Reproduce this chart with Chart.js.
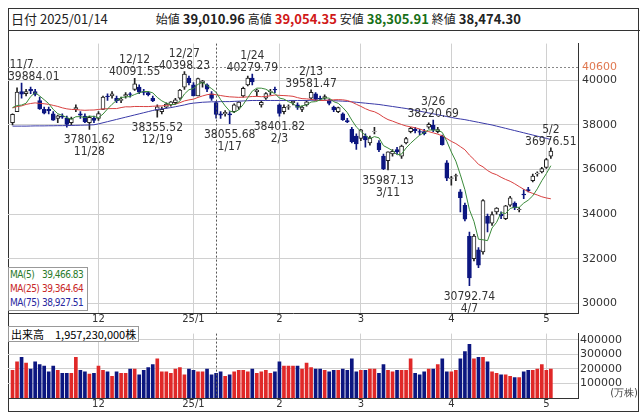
<!DOCTYPE html>
<html><head><meta charset="utf-8">
<script src="https://cdn.jsdelivr.net/npm/chart.js@4"></script>
<style>
body{margin:0;width:642px;height:414px;background:#fff;font-family:"Noto Sans CJK JP","DejaVu Sans",sans-serif;overflow:hidden;position:relative}
.ab{position:absolute}
#frame{left:8px;top:8px;width:631px;height:404px;border:1px solid #333;box-sizing:border-box}
.hl{position:absolute;left:8px;width:632px;height:1px;background:#333}
#hdr{left:11px;top:9px;font-size:13px;color:#222;white-space:nowrap}
#hdr b{font-weight:bold}
#ma{left:8px;top:267px;width:80px;height:44px;border:1px solid #999;background:#fff;font-size:10px;line-height:14px;font-family:"DejaVu Sans Condensed",sans-serif;box-sizing:border-box;padding-left:1px;white-space:nowrap;letter-spacing:-0.5px}
#ma span{display:inline-block;width:32px}
#vol{left:8px;top:326px;border:1px solid #999;background:#fff;font-size:11px;padding:0 2px;font-family:"Noto Sans CJK JP",sans-serif;line-height:14px}
</style></head><body>
<div class="ab" id="frame"></div>
<div class="hl" style="top:30px"></div>
<div class="ab" id="hdr">日付 2025/01/14<span style="display:inline-block;width:48px"></span><span style="font-size:12px">始値</span> <b>39,010.96</b> <span style="font-size:12px">高値</span> <b style="color:#d01818">39,054.35</b> <span style="font-size:12px">安値</span> <b style="color:#187018">38,305.91</b> <span style="font-size:12px">終値</span> <b>38,474.30</b></div>
<canvas id="c1" class="ab" style="left:8px;top:33px;width:632px;height:293px" width="632" height="293"></canvas>
<canvas id="c2" class="ab" style="left:8px;top:325px;width:632px;height:86px" width="632" height="86"></canvas>
<div class="ab" id="ma"><div style="color:#2a7a2a"><span>MA(5)</span>39,466.83</div><div style="color:#c82828"><span>MA(25)</span>39,364.64</div><div style="color:#2828a0"><span>MA(75)</span>38,927.51</div></div>
<div class="ab" id="vol">出来高　1,957,230,000株</div>
<script>
const dates=["11/5","11/6","11/7","11/8","11/11","11/12","11/13","11/14","11/15","11/18","11/19","11/20","11/21","11/22","11/25","11/26","11/27","11/28","11/29",
"12/2","12/3","12/4","12/5","12/6","12/9","12/10","12/11","12/12","12/13","12/16","12/17","12/18","12/19","12/20","12/23","12/24","12/25","12/26","12/27","12/30",
"1/6","1/7","1/8","1/9","1/10","1/14","1/15","1/16","1/17","1/20","1/21","1/22","1/23","1/24","1/27","1/28","1/29","1/30","1/31",
"2/3","2/4","2/5","2/6","2/7","2/10","2/12","2/13","2/14","2/17","2/18","2/19","2/20","2/21","2/25","2/26","2/27","2/28",
"3/3","3/4","3/5","3/6","3/7","3/10","3/11","3/12","3/13","3/14","3/17","3/18","3/19","3/21","3/24","3/25","3/26","3/27","3/28","3/31",
"4/1","4/2","4/3","4/4","4/7","4/8","4/9","4/10","4/11","4/14","4/15","4/16","4/17","4/18","4/21","4/22","4/23","4/24","4/25","4/28","4/30",
"5/1","5/2"];
const opens=[38100,38600,39500,39400,39600,39500,39100,38700,38700,38500,38300,38400,38300,38100,38700,38500,38400,38100,38300,
38300,38700,39300,39300,39200,39100,39300,39400,39600,39700,39500,39450,39200,38650,38600,38800,38900,39000,39200,39700,40100,
39800,39300,39900,39800,39400,39011,38500,38500,38500,38600,38800,39300,39800,40100,39500,38900,39200,39500,39600,
38900,38600,38800,39000,38900,38700,38900,39200,39400,39200,39200,39100,38800,38600,38500,38200,37800,37500,
37400,37500,37200,37700,37200,36600,36400,36700,36900,36600,37200,37700,37800,37700,37700,37900,38000,37700,37500,36300,
35600,35700,35000,34400,33000,32000,32400,32300,33900,33600,34100,34000,33800,34400,34500,34200,34900,35100,35500,35800,35900,
36100,36600];
const highs=[38500,39664,39884,39600,39700,39600,39250,38800,38800,38600,38450,38500,38400,38350,38900,38600,38500,38400,38400,
38600,39300,39400,39500,39300,39250,39450,39450,40091,39800,39600,39500,39300,38900,38800,39000,39050,39200,39600,40398,40200,
39900,40100,40000,39850,39500,39054,38600,38650,38600,38950,39050,39700,40200,40280,39600,39100,39450,39600,39700,
38950,38900,38900,39100,39000,38850,39100,39581,39450,39300,39350,39150,38850,38800,38550,38300,37900,37600,
37800,37600,37500,37900,37300,36700,36800,36900,37000,37100,37450,37900,37900,37800,37800,38100,38220,37900,37550,36400,
35700,35800,35100,34500,33200,33100,32500,34650,34000,34100,34300,34100,34400,34800,34550,34300,35100,35200,35800,35900,36100,
36500,36976];
const lows=[38000,38600,39200,39300,39400,39300,38700,38500,38500,38200,38100,38300,37900,38000,38600,38300,38100,37801,38100,
38200,38700,39100,39200,39000,39000,39200,39250,39550,39400,39350,39300,39050,38355,38500,38750,38850,38950,39150,39600,39800,
39300,39300,39700,39500,39100,38306,38300,38400,38056,38550,38700,39250,39750,39800,39300,38800,39150,39350,39450,
38401,38500,38700,38900,38700,38600,38850,39150,39100,39100,39150,38900,38600,38550,38200,38100,37200,36900,
37300,37000,37100,37600,36800,36000,35987,36600,36700,36500,37150,37650,37650,37550,37550,37850,37700,37650,37100,35500,
35300,35500,34100,33700,30793,31900,31600,32200,33200,33500,34000,33800,33750,34350,34200,34100,34700,35000,35450,35700,35850,
36050,36500];
const closes=[38474,39480,39381,39500,39533,39376,38721,38535,38642,38220,38414,38352,38026,38283,38780,38442,38134,38349,38208,
38513,39248,39276,39395,39091,39160,39367,39372,39849,39470,39457,39364,39081,38813,38701,38937,39036,39130,39568,40281,39894,
39307,40083,39981,39605,39190,38474,38444,38572,38451,38902,39027,39646,40100,39931,39565,39016,39414,39513,39572,
38520,38798,38831,39066,38787,38801,39043,39461,39149,39174,39270,38964,38678,38776,38237,38142,37256,37155,
37785,37331,37418,37704,36887,36028,36793,36819,36790,37053,37396,37845,37751,37677,37608,38027,37780,37799,37120,35617,
35624,35725,34735,33780,31136,33012,31714,34609,33585,33982,34267,33920,34377,34730,34279,34220,34868,35039,35705,35839,36045,
36452,36830];
const priorCloses=[37919,38651,37808,38552,38635,39332,38937,39277,39380,39605,39910,39180,38911,38981,38954,38411,38104,38143,37913,38605,39027,39277,39081,38053];
const ma75=[37950,37950,37950,37950,37955,37960,37960,37960,37965,37965,37970,37970,37975,37980,37985,37990,37995,38000,38010,
38050,38100,38150,38200,38250,38300,38350,38400,38450,38500,38550,38600,38650,38700,38720,38750,38780,38820,38860,38900,38950,
38980,39000,39020,39030,39040,39040,39050,39050,39050,39060,39070,39080,39090,39100,39100,39100,39100,39100,39100,
39100,39100,39100,39100,39100,39100,39100,39110,39110,39110,39110,39100,39090,39080,39070,39060,39040,39020,
39000,38980,38960,38940,38920,38890,38860,38830,38800,38770,38740,38700,38660,38620,38580,38540,38500,38460,38420,38380,
38340,38300,38270,38240,38200,38160,38120,38080,38040,38000,37950,37900,37850,37800,37750,37700,37650,37600,37550,37500,37450,
37400,37350];
const volumes=[190000,250000,280000,240000,200000,250000,230000,220000,180000,220000,190000,170000,170000,170000,280000,190000,180000,165000,170000,
220000,190000,180000,150000,180000,170000,170000,200000,200000,160000,190000,210000,230000,270000,180000,180000,170000,200000,210000,160000,200000,
190000,180000,180000,200000,160000,170000,180000,150000,160000,180000,190000,190000,180000,200000,170000,180000,190000,170000,180000,
250000,220000,220000,220000,220000,200000,240000,210000,200000,200000,190000,180000,190000,190000,200000,190000,270000,180000,
190000,190000,200000,200000,170000,230000,190000,180000,190000,190000,190000,270000,170000,160000,180000,200000,200000,230000,270000,180000,
180000,190000,270000,320000,370000,270000,280000,280000,250000,180000,170000,160000,160000,150000,140000,140000,180000,190000,190000,200000,230000,
190000,200000];
const priceTicks=[30000,32000,34000,36000,38000,40000];
const volTicks=[100000,200000,300000,400000];
const monthStarts=[19,40,59,77,97,118];
const monthLabels=["12","25/1","2","3","4","5"];
const highNotes=[[2,"11/7","39884.01"],[27,"12/12","40091.55"],[38,"12/27","40398.23"],[53,"1/24","40279.79"],[66,"2/13","39581.47"],[93,"3/26","38220.69"],[119,"5/2","36976.51"]];
const lowNotes=[[17,"37801.62","11/28"],[32,"38355.52","12/19"],[48,"38055.68","1/17"],[59,"38401.82","2/3"],[83,"35987.13","3/11"],[101,"30792.74","4/7"]];
const selected=45;

const NAVY='#0c1680', GRID='#d0d0d0';
const all=priorCloses.concat(closes), P=priorCloses.length;
function ma(n){return closes.map((_,i)=>{let s=0;for(let k=0;k<n;k++)s+=all[P+i-k];return {x:i,y:s/n};});}
const up=closes.map((c,i)=>c>=opens[i]);
const xs={type:'linear',min:-1,max:125,offset:false,afterBuildTicks:s=>{s.ticks=monthStarts.map(v=>({value:v}));},
 afterFit:s=>{s.height=13},
 ticks:{autoSkip:false,maxRotation:0,padding:0,font:{size:10,family:'DejaVu Sans'},color:'#333',callback:(v)=>monthLabels[monthStarts.indexOf(v)]},
 grid:{color:GRID,drawTicks:false,offset:false},border:{color:'#333'}};
const deco={id:'deco',afterDatasetsDraw(ch){
 const c=ch.ctx,x=ch.scales.x,y=ch.scales.y,a=ch.chartArea;c.save();
 c.strokeStyle='#555';c.setLineDash([2,2]);c.lineWidth=1;
 const sx=Math.round(x.getPixelForValue(selected))+0.5;c.beginPath();c.moveTo(sx,a.top);c.lineTo(sx,a.bottom);c.stroke();
 if(ch.canvas.id==='c1'){
  const py=Math.round(y.getPixelForValue(40600))+0.5;c.strokeStyle='#888';c.beginPath();c.moveTo(a.left,py);c.lineTo(a.right,py);c.stroke();
  c.setLineDash([]);c.fillStyle='#e07850';c.font='11px DejaVu Sans';c.textBaseline='middle';c.fillText('40600',a.right+4,py);
  c.fillStyle='#333';c.font='12px "DejaVu Sans Condensed",sans-serif';c.textAlign='center';c.textBaseline='alphabetic';
  const put=(t,px,py)=>{const w=c.measureText(t).width;const cx=Math.max(a.left+w/2,Math.min(a.right-w/2,px));c.fillText(t,cx,py);};
  highNotes.forEach(([i,d,v])=>{const px=x.getPixelForValue(i),py=y.getPixelForValue(highs[i]);put(v,px,py-3);put(d,px,py-15);});
  lowNotes.forEach(([i,v,d])=>{const px=x.getPixelForValue(i),py=y.getPixelForValue(lows[i]);put(v,px,py+14);put(d,px,py+26);});
 } else {c.setLineDash([]);c.fillStyle='#444';c.font='10px DejaVu Sans';c.textAlign='right';c.fillText('(万株)',ch.width-2,a.bottom-2);}
 c.restore();}};
const yt={padding:4,font:{size:11,family:'DejaVu Sans'},color:'#333',callback:v=>String(v)};
new Chart(document.getElementById('c1'),{type:'bar',
 data:{datasets:[
  {type:'line',data:ma(5),borderColor:'#3a8a3a',borderWidth:1,pointRadius:0,order:1},
  {type:'line',data:ma(25),borderColor:'#d84040',borderWidth:1,pointRadius:0,order:1},
  {type:'line',data:ma75.map((v,i)=>({x:i,y:v})),borderColor:'#3a3aa8',borderWidth:1,pointRadius:0,order:1},
  {data:closes.map((c,i)=>({x:i,y:[opens[i],c]})),barThickness:4,grouped:false,order:2,
   backgroundColor:ctx=>up[ctx.dataIndex]?'#fff':NAVY,borderColor:ctx=>up[ctx.dataIndex]?'#222':NAVY,borderWidth:1,borderSkipped:false},
  {data:highs.map((h,i)=>({x:i,y:[lows[i],h]})),barThickness:1,grouped:false,order:3,
   backgroundColor:ctx=>up[ctx.dataIndex]?'#222':NAVY}
 ]},
 options:{responsive:false,animation:false,events:[],layout:{padding:0},
  plugins:{legend:{display:false},tooltip:{enabled:false}},
  scales:{x:xs,
   y:{position:'right',min:29565,max:41652,afterBuildTicks:s=>{s.ticks=priceTicks.map(v=>({value:v}));},afterFit:s=>{s.width=62},
    ticks:yt,grid:{color:GRID,drawTicks:false},border:{color:'#333'}}}},
 plugins:[deco]});
new Chart(document.getElementById('c2'),{type:'bar',
 data:{datasets:[{data:volumes.map((v,i)=>({x:i,y:v})),barThickness:3,backgroundColor:ctx=>up[ctx.dataIndex]?'#e02828':NAVY}]},
 options:{responsive:false,animation:false,events:[],layout:{padding:0},
  plugins:{legend:{display:false},tooltip:{enabled:false}},
  scales:{x:xs,
   y:{position:'right',min:0,max:443750,afterBuildTicks:s=>{s.ticks=volTicks.map(v=>({value:v}));},afterFit:s=>{s.width=62},
    ticks:Object.assign({},yt,{padding:2}),grid:{color:GRID,drawTicks:false},border:{color:'#333'}}}},
 plugins:[deco]});
</script></body></html>
